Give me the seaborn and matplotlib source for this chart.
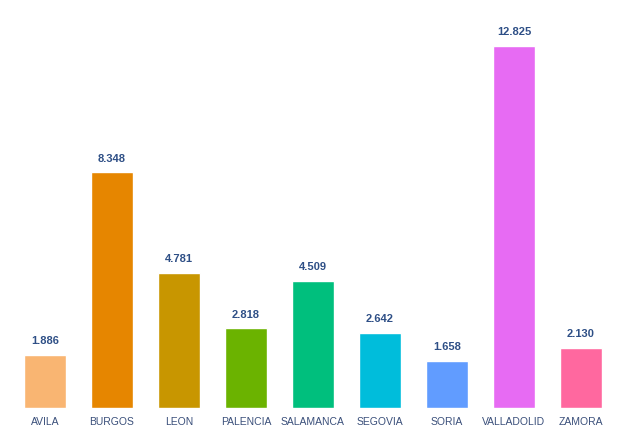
import matplotlib
matplotlib.use("Agg")
import matplotlib.pyplot as plt
import pandas as pd
import seaborn as sns

# datos por provincia
provincias = ["AVILA", "BURGOS", "LEON", "PALENCIA", "SALAMANCA",
              "SEGOVIA", "SORIA", "VALLADOLID", "ZAMORA"]
valores = [1.886, 8.348, 4.781, 2.818, 4.509, 2.642, 1.658, 12.825, 2.130]
etiquetas = ["1.886", "8.348", "4.781", "2.818", "4.509",
             "2.642", "1.658", "12.825", "2.130"]
colores = ["#F9B572", "#E68600", "#C89600", "#6BB300", "#00BF7D",
           "#00BDDB", "#619CFF", "#E76BF3", "#FF689F"]

sns.set_theme(style="white")
plt.rcParams["font.family"] = ["Liberation Sans", "DejaVu Sans"]

df = pd.DataFrame({"provincia": provincias, "valor": valores})

fig = plt.figure(figsize=(6.29, 4.35), dpi=100)
ax = fig.add_axes([0.018, 0.06, 0.959, 0.908])
sns.barplot(data=df, x="provincia", y="valor", hue="provincia",
            palette=colores, width=0.63, legend=False, ax=ax, saturation=1)

for i, (v, t) in enumerate(zip(valores, etiquetas)):
    ax.text(i, v + 0.35, t, ha="center", va="bottom", fontsize=8,
            fontweight="bold", color="#2E4F86")

ax.set_ylim(0, 14)
ax.set_xlim(-0.5, len(provincias) - 0.5)
ax.set_xlabel("")
ax.set_ylabel("")
ax.set_yticks([])
ax.tick_params(axis="x", length=0, pad=6, labelsize=7.5, colors="#3A4F7A")
for s in ax.spines.values():
    s.set_visible(False)

fig.savefig("out.png", dpi=100)
